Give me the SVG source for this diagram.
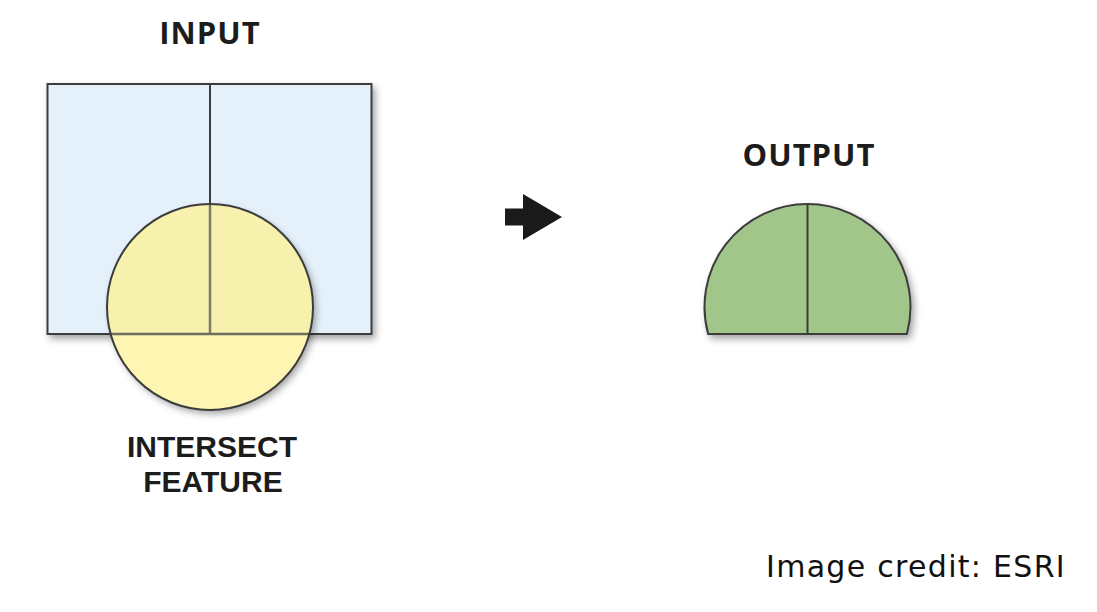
<svg xmlns="http://www.w3.org/2000/svg" width="1097" height="612" viewBox="0 0 1097 612">
  <style>
    .lbl { font-family: "Open Sans", "Liberation Sans", sans-serif; font-weight: 700; font-size: 31px; letter-spacing: 1px; fill: #1c1c1c; text-anchor: middle; }
    .lbl2 { font-family: "Liberation Sans", Arial, sans-serif; font-weight: 700; font-size: 30px; fill: #1c1c1c; text-anchor: middle; }
    .credit { font-family: "DejaVu Sans", "Liberation Sans", sans-serif; font-size: 30px; letter-spacing: 1.3px; fill: #111; }
    .edge { stroke: #3c3c3c; stroke-width: 2; }
  </style>
  <defs>
    <filter id="shadow" x="-10%" y="-10%" width="130%" height="130%">
      <feDropShadow dx="3" dy="4" stdDeviation="3.5" flood-color="#000" flood-opacity="0.35"/>
    </filter>
    <clipPath id="rectClip">
      <rect x="47.5" y="84" width="324" height="250"/>
    </clipPath>
  </defs>
  <rect width="1097" height="612" fill="#ffffff"/>

  <g id="input">
    <rect x="47.5" y="84" width="324" height="250" fill="#e4f1fb" class="edge" filter="url(#shadow)"/>
    <line x1="210" y1="84" x2="210" y2="334" class="edge"/>
    <text class="lbl" x="210" y="44">INPUT</text>
  </g>

  <g id="intersect-feature">
    <circle cx="210" cy="307" r="103" fill="#fdf5b1" filter="url(#shadow)"/>
    <circle cx="210" cy="307" r="103" fill="#f6f1ac" clip-path="url(#rectClip)"/>
    <line x1="210" y1="204" x2="210" y2="334" stroke="#7a7a6a" stroke-width="2.5"/>
    <line x1="110.6" y1="334" x2="309.4" y2="334" stroke="#6e6e60" stroke-width="2.5"/>
    <circle cx="210" cy="307" r="103" fill="none" class="edge"/>
    <text class="lbl2" x="212" y="457">INTERSECT</text>
    <text class="lbl2" x="213" y="492">FEATURE</text>
  </g>

  <g id="connectors">
    <polygon points="505,208.5 523,208.5 523,194 562,217 523,240 523,225.5 505,225.5" fill="#1a1a1a"/>
  </g>

  <g id="output">
    <path d="M708.1 334 A103 103 0 1 1 906.9 334 Z" fill="#a2c68a" class="edge" filter="url(#shadow)"/>
    <line x1="807.5" y1="204" x2="807.5" y2="334" class="edge"/>
    <text class="lbl" x="809" y="166">OUTPUT</text>
  </g>

  <text class="credit" x="766" y="577">Image credit: ESRI</text>
</svg>
